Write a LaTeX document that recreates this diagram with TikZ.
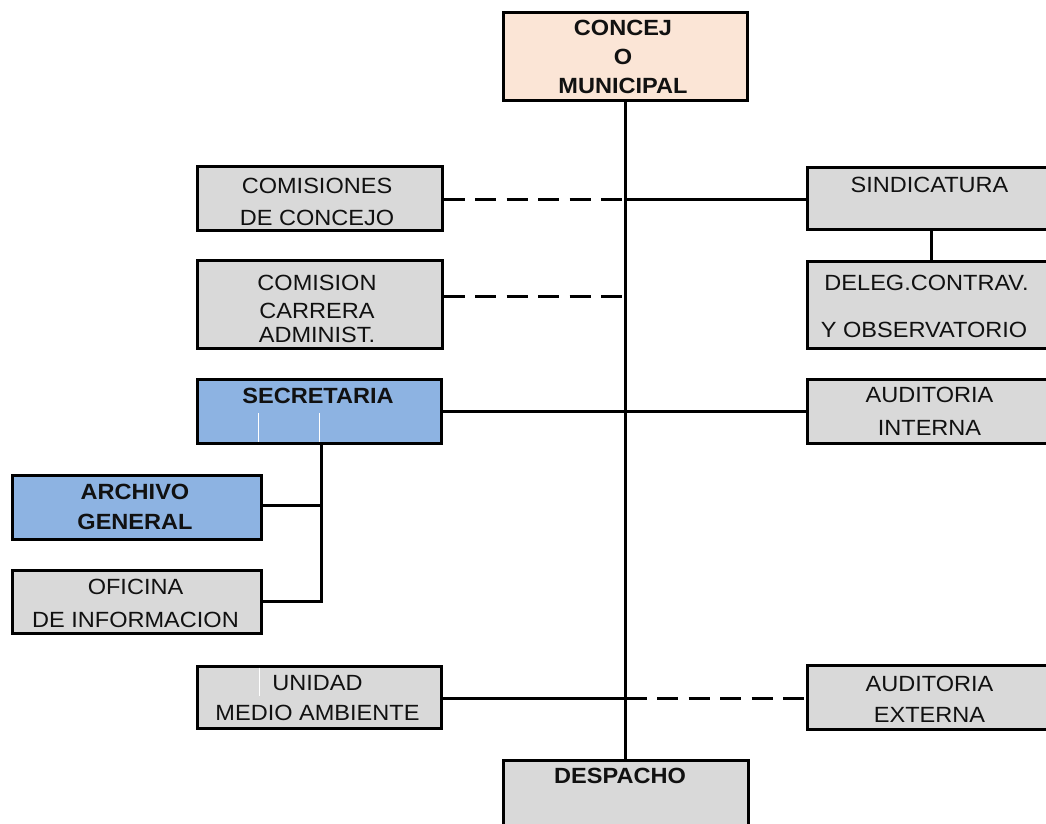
\documentclass[tikz,border=0pt]{standalone}
\usepackage{fontspec}
\setmainfont[FakeStretch=1.07]{Liberation Sans}
\definecolor{peach}{HTML}{FBE5D6}
\definecolor{boxgray}{HTML}{D9D9D9}
\definecolor{boxblue}{HTML}{8DB3E2}
\definecolor{ink}{HTML}{111111}
\begin{document}
\begin{tikzpicture}[x=1pt,y=-1pt,
  box/.style={draw=black, line width=3pt, rectangle, inner sep=0pt},
  gbox/.style={box, fill=boxgray},
  bbox/.style={box, fill=boxblue},
  pbox/.style={box, fill=peach},
  txt/.style={font=\fontsize{22}{26}\selectfont, anchor=base, inner sep=0pt, text=ink},
  btxt/.style={txt, font=\fontsize{22}{26}\selectfont\bfseries},
  conn/.style={line width=3pt, draw=black},
  dconn/.style={conn, dash pattern=on 21pt off 10.5pt},
  artefact/.style={draw=white, line width=1pt}]
\useasboundingbox (0,0) rectangle (1046,823);
\clip (0,0) rectangle (1046,823);

% boxes
\node[pbox, minimum width=244pt, minimum height=88pt] (concejo) at (625.5,56) {};
\node[gbox, minimum width=245pt, minimum height=64pt] (comi) at (319.5,198) {};
\node[gbox, minimum width=245pt, minimum height=88pt] (comcar) at (319.5,304) {};
\node[bbox, minimum width=244pt, minimum height=64pt] (secr) at (319,411) {};
\node[bbox, minimum width=249pt, minimum height=64pt] (archivo) at (136.5,507) {};
\node[gbox, minimum width=249pt, minimum height=63pt] (oficina) at (136.5,601.5) {};
\node[gbox, minimum width=244pt, minimum height=62pt] (unidad) at (319,697) {};
\node[gbox, minimum width=245pt, minimum height=80pt] (despacho) at (625.5,800) {};
\node[gbox, minimum width=253pt, minimum height=62pt] (sind) at (933.5,198) {};
\node[gbox, minimum width=253pt, minimum height=87pt] (deleg) at (933.5,304.5) {};
\node[gbox, minimum width=253pt, minimum height=64pt] (audint) at (933.5,411) {};
\node[gbox, minimum width=253pt, minimum height=64pt] (audext) at (933.5,697) {};

% small white marks inside boxes
\draw[artefact] (258,413) -- (258,441.5);
\draw[artefact] (319,413) -- (319,441.5);
\draw[artefact] (259,667.5) -- (259,696);

% connectors
\draw[conn] (concejo.south) -- (despacho.north);
\draw[dconn] ([yshift=-1.5pt]comi.east) -- ([yshift=-1.5pt]comi.east -| concejo.south);
\draw[conn] ([yshift=-1.5pt]comi.east -| concejo.south) -- ([yshift=-1.5pt]sind.west);
\draw[dconn] ([yshift=7.5pt]comcar.east) -- ([yshift=7.5pt]comcar.east -| concejo.south);
\draw[conn] ([xshift=-2.5pt]sind.south) -- ([xshift=-2.5pt]deleg.north);
\draw[conn] (secr.east) -- (audint.west);
\coordinate (sv) at ([xshift=2.5pt]secr.south);
\draw[conn] (sv) |- (oficina.east);
\draw[conn] ([yshift=2pt]archivo.east) -- ([yshift=2pt]archivo.east -| sv);
\draw[conn] ([yshift=-1.5pt]unidad.east) -- ([yshift=-1.5pt]unidad.east -| concejo.south);
\draw[dconn] ([yshift=-1.5pt]unidad.east -| concejo.south) -- ([yshift=-1.5pt]audext.west);

% texts
\node[btxt] (t01) at (623,35.3) {CONCEJ};
\node[btxt] (t02) at (623,64.8) {O};
\node[btxt] (t03) at (623,93.8) {MUNICIPAL};
\node[txt] (t04) at (317,193.3) {COMISIONES};
\node[txt] (t05) at (317,225.3) {DE CONCEJO};
\node[txt] (t06) at (317,290.3) {COMISION};
\node[txt] (t07) at (317,318.3) {CARRERA};
\node[txt] (t08) at (317,342.8) {ADMINIST.};
\node[btxt] (t09) at (318,403.3) {SECRETARIA};
\node[btxt] (t10) at (135,499.3) {ARCHIVO};
\node[btxt] (t11) at (135,529.8) {GENERAL};
\node[txt] (t12) at (135.5,594.8) {OFICINA};
\node[txt] (t13) at (135.5,627.3) {DE INFORMACION};
\node[txt] (t14) at (317.5,690.3) {UNIDAD};
\node[txt] (t15) at (317.5,720.3) {MEDIO AMBIENTE};
\node[btxt] (t16) at (620,783.3) {DESPACHO};
\node[txt] (t17) at (929.5,192.3) {SINDICATURA};
\node[txt] (t18) at (926.5,290.3) {DELEG.CONTRAV.};
\node[txt] (t19) at (924,337.8) {Y OBSERVATORIO};
\node[txt] (t20) at (929.5,402.8) {AUDITORIA};
\node[txt] (t21) at (929.5,435.3) {INTERNA};
\node[txt] (t22) at (929.5,691.3) {AUDITORIA};
\node[txt] (t23) at (929.5,722.3) {EXTERNA};
\end{tikzpicture}
\end{document}
